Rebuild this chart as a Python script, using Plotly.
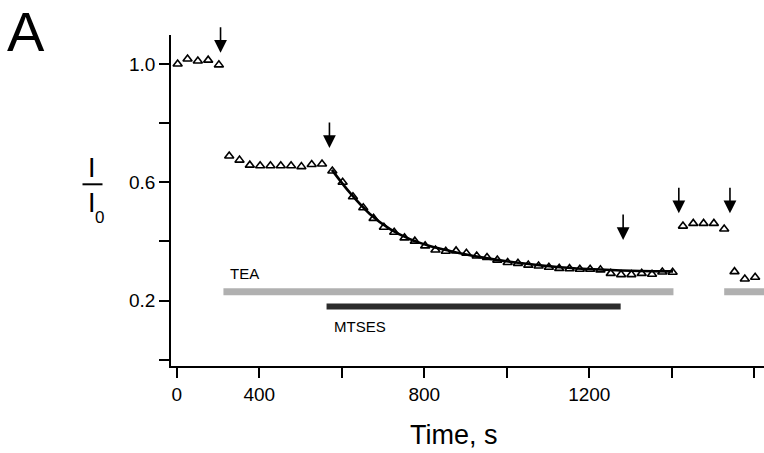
import plotly.graph_objects as go

# ---- data ----
# x axis in seconds on a linear scale; the first tick (labelled "0") sits at 200
tick_vals = [200, 400, 600, 800, 1000, 1200, 1400, 1600]
tick_text = ["0", "400", "", "800", "", "1200", "", ""]
y_tick_vals = [0.0, 0.2, 0.4, 0.6, 0.8, 1.0]
y_tick_text = ["", "0.2", "", "0.6", "", "1.0"]

time_s = [202, 226, 251, 276, 302,
          327, 352, 377, 402, 427, 452, 477, 502, 527, 552,
          577, 602, 627, 652, 677, 702, 727, 752, 777, 802, 827, 852, 877, 902, 927, 952,
          977, 1002, 1027, 1052, 1077, 1102, 1127, 1152, 1177, 1202, 1227, 1252, 1277,
          1302, 1327, 1352, 1377, 1402,
          1427, 1452, 1477, 1502, 1527,
          1552, 1577, 1602, 1627]
i_ratio = [1.000, 1.017, 1.010, 1.013, 0.997,
           0.689, 0.675, 0.658, 0.656, 0.656, 0.656, 0.656, 0.653, 0.660, 0.662,
           0.638, 0.600, 0.551, 0.514, 0.478, 0.448, 0.431, 0.412, 0.401, 0.385, 0.371, 0.367,
           0.368, 0.360, 0.351, 0.346, 0.337, 0.329, 0.326, 0.320, 0.317, 0.313, 0.309,
           0.308, 0.306, 0.306, 0.304, 0.292, 0.288, 0.288, 0.292, 0.289, 0.297, 0.296,
           0.452, 0.461, 0.461, 0.461, 0.442,
           0.298, 0.273, 0.279, 0.280]

fit_time = [576, 620, 668, 717, 765, 813, 862, 935, 1032, 1129, 1226, 1323, 1403]
fit_ratio = [0.642, 0.564, 0.493, 0.442, 0.408, 0.385, 0.368, 0.347, 0.327, 0.313, 0.305, 0.300, 0.299]

arrow_time = [306, 570, 1282, 1417, 1541]
arrow_tip = [1.038, 0.716, 0.405, 0.495, 0.495]

tea_start = [313, 1527]
tea_end = [1404, 1700]
tea_level = 0.230
mtses_start = [563]
mtses_end = [1276]
mtses_level = 0.180

FONT = "Liberation Sans, Arial, Helvetica, sans-serif"

fig = go.Figure()

# TEA bars
for s, e in zip(tea_start, tea_end):
    fig.add_trace(go.Scatter(x=[s, e], y=[tea_level, tea_level], mode="lines",
                             line=dict(color="#b0b0b0", width=7), hoverinfo="skip"))
# MTSES bar
for s, e in zip(mtses_start, mtses_end):
    fig.add_trace(go.Scatter(x=[s, e], y=[mtses_level, mtses_level], mode="lines",
                             line=dict(color="#2c2c2c", width=6), hoverinfo="skip"))

# exponential fit curve
fig.add_trace(go.Scatter(x=fit_time, y=fit_ratio, mode="lines",
                         line=dict(color="black", width=2.6, shape="spline"), hoverinfo="skip"))

# data points
fig.add_trace(go.Scatter(x=time_s, y=i_ratio, mode="markers",
                         marker=dict(symbol="triangle-up-open", size=8, color="black",
                                     line=dict(color="black", width=1.6)),
                         cliponaxis=False, hoverinfo="skip"))

annotations = []
for t, v in zip(arrow_time, arrow_tip):
    annotations.append(dict(x=t, y=v, xref="x", yref="y", ax=0, ay=-27, text="",
                            showarrow=True, arrowhead=2, arrowsize=1.6, arrowwidth=1.6,
                            arrowcolor="black"))

annotations += [
    dict(x=365, y=0.293, xref="x", yref="y", text="TEA", showarrow=False,
         font=dict(family=FONT, size=15, color="black")),
    dict(x=644, y=0.111, xref="x", yref="y", text="MTSES", showarrow=False,
         font=dict(family=FONT, size=15, color="black")),
]

W, H = 764, 453
ML, MR, MT, MB = 171, 0, 35, 87
PW, PH = W - ML - MR, H - MT - MB


def px(xp):
    return (xp - ML) / PW


def py(yp):
    return (H - MB - yp) / PH


annotations += [
    dict(x=px(26), y=py(31), xref="paper", yref="paper", text="A", showarrow=False,
         xanchor="center", yanchor="middle", font=dict(family=FONT, size=56, color="black")),
    dict(x=px(454), y=py(435), xref="paper", yref="paper", text="Time, s", showarrow=False,
         xanchor="center", yanchor="middle", font=dict(family=FONT, size=27, color="black")),
    dict(x=px(92), y=py(168), xref="paper", yref="paper", text="I", showarrow=False,
         xanchor="center", yanchor="middle", font=dict(family=FONT, size=27, color="black")),
    dict(x=px(92), y=py(203), xref="paper", yref="paper", text="I", showarrow=False,
         xanchor="center", yanchor="middle", font=dict(family=FONT, size=27, color="black")),
    dict(x=px(99), y=py(217), xref="paper", yref="paper", text="0", showarrow=False,
         xanchor="center", yanchor="middle", font=dict(family=FONT, size=17, color="black")),
]

shapes = [dict(type="line", xref="paper", yref="paper", x0=px(82.5), x1=px(102.5),
               y0=py(184.3), y1=py(184.3), line=dict(color="black", width=2))]

fig.update_layout(
    width=W, height=H,
    margin=dict(l=ML, r=MR, t=MT, b=MB, pad=0),
    paper_bgcolor="white", plot_bgcolor="white",
    showlegend=False, hovermode=False,
    annotations=annotations, shapes=shapes,
    font=dict(family=FONT, color="black"),
)
fig.update_xaxes(range=[185.9, 1623.5], tickvals=tick_vals, ticktext=tick_text,
                 showline=True, linecolor="black", linewidth=1.5, mirror=False,
                 ticks="outside", ticklen=10, tickwidth=1.5, tickcolor="black",
                 showgrid=False, zeroline=False,
                 tickfont=dict(family=FONT, size=19, color="black"))
fig.update_yaxes(range=[-0.021, 1.098], tickvals=y_tick_vals, ticktext=y_tick_text,
                 showline=True, linecolor="black", linewidth=1.5, mirror=False,
                 ticks="outside", ticklen=10, tickwidth=1.5, tickcolor="black",
                 showgrid=False, zeroline=False,
                 tickfont=dict(family=FONT, size=19, color="black"))

fig.write_html("out.html", config={"displayModeBar": False},
               post_script="document.body.style.margin='0px';document.body.style.padding='0px';")
